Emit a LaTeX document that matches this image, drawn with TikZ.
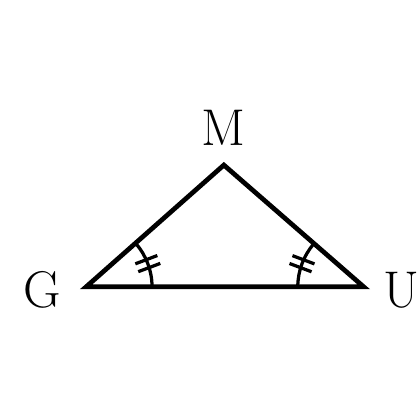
\documentclass[tikz,border=0pt]{standalone}
\usepackage{tikz}
\usetikzlibrary{calc}
\usetikzlibrary{math}

\begin{document}
\begin{tikzpicture}
            \useasboundingbox (0,0) rectangle (10,10);
            \coordinate (G) at (2.05,3.17);
            \coordinate (U) at (8.66,3.17);
            \coordinate (M) at (5.33,6.07);

            \draw[line width=3.2pt] (G) -- (M) -- (U) -- cycle;

            \foreach \p/\deb/\fin in {G/0/41.28,U/138.87/180} {
                \tikzmath{\rayon = 1.57; \milieu = (\deb+\fin)/2;}
                \draw[line width=2.2pt] ($(\p)+(\deb:\rayon)$) arc (\deb:\fin:\rayon);
                \foreach \d in {-0.1,0.1} {
                    \draw[line width=2.2pt] ($(\p)+(\milieu:\rayon)+(\milieu+90:\d)+(\milieu:-0.28)$) -- ($(\p)+(\milieu:\rayon)+(\milieu+90:\d)+(\milieu:0.28)$);
                }
            }

            \node[font=\fontsize{35}{42}\selectfont] (nomM) at (5.33,6.95) {M};
            \node[font=\fontsize{35}{42}\selectfont] (nomG) at (1.0,3.1) {G};
            \node[font=\fontsize{35}{42}\selectfont] (nomU) at (9.55,3.1) {U};
        \end{tikzpicture}
\end{document}
